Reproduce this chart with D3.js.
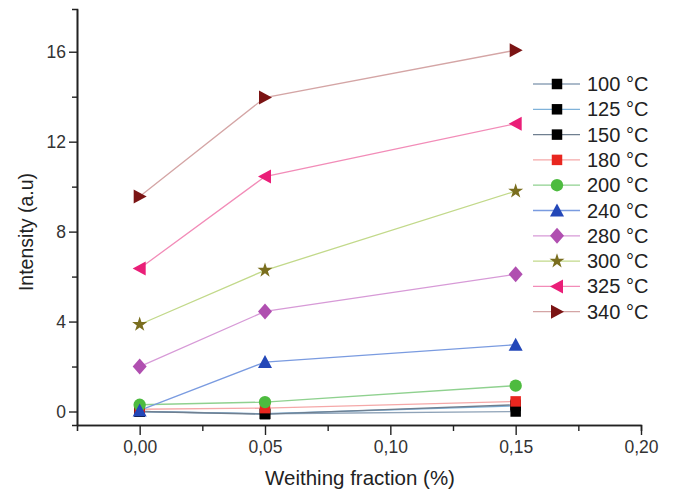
<!DOCTYPE html>
<html>
<head>
<meta charset="utf-8">
<script src="https://cdn.jsdelivr.net/npm/d3@7"></script>
<style>
    body { margin: 0; background: #fff; }
    svg { display: block; font-family: "Liberation Sans", Arial, sans-serif; }
</style>
</head>
<body>
<div id="chart"></div>
<script>
// weighting fraction (x) and intensity values
const fractions = [0, 0.05, 0.15]
const labels = ["100 °C", "125 °C", "150 °C", "180 °C", "200 °C", "240 °C", "280 °C", "300 °C", "325 °C", "340 °C"]
const t100 = [0.0, -0.1, 0.0]
const t125 = [0.0, -0.1, 0.25]
const t150 = [0.0, -0.12, 0.3]
const t180 = [0.1, 0.15, 0.45]
const t200 = [0.3, 0.42, 1.15]
const t240 = [0.05, 2.2, 2.97]
const t280 = [2.0, 4.45, 6.1]
const t300 = [3.87, 6.28, 9.8]
const t325 = [6.36, 10.45, 12.8]
const t340 = [9.56, 13.96, 16.07]
const yTicks = [0, 4, 8, 12, 16]
const xTicks = [0, 0.05, 0.10, 0.15, 0.20]

const seriesValues = [t100, t125, t150, t180, t200, t240, t280, t300, t325, t340]
const lineColors = ["#8fa3b8", "#7fb2d9", "#6f7f90", "#f5a8a8", "#8fd18f", "#7a9be0", "#d79ad7", "#c2d98a", "#f28cb8", "#d4a5a5"]
const markColors = ["#000", "#000", "#000", "#e8261f", "#4dbb3f", "#2347b8", "#b04fb0", "#7a6e1e", "#ea1e78", "#7b1414"]
const markShapes = ["square", "square", "square", "square", "circle", "up", "diamond", "star", "left", "right"]

const dimensions = {
    width: 674,
    height: 490,
    margin: {top: 9, right: 33, bottom: 65, left: 77},
}

const wrapper = d3.select("#chart")
    .append("svg")
    .attr("width", dimensions.width)
    .attr("height", dimensions.height)

const xScale = d3.scaleLinear()
    .domain([-0.025, 0.2])
    .range([dimensions.margin.left, dimensions.width - dimensions.margin.right])
const yScale = d3.scaleLinear()
    .domain([-0.6, 17.9])
    .range([dimensions.height - dimensions.margin.bottom, dimensions.margin.top])

const commaFormat = d => d3.format(".2f")(d).replace(".", ",")
const axisColor = "#222"
const bottomY = dimensions.height - dimensions.margin.bottom

// minor ticks first
wrapper.append("g")
    .attr("transform", "translate(0," + bottomY + ")")
    .call(d3.axisBottom(xScale).tickValues([0.025, 0.075, 0.125, 0.175]).tickSize(6).tickFormat(""))
wrapper.append("g")
    .attr("transform", "translate(" + dimensions.margin.left + ",0)")
    .call(d3.axisLeft(yScale).tickValues([2, 6, 10, 14]).tickSize(5).tickFormat(""))

const xAxis = wrapper.append("g")
    .attr("transform", "translate(0," + bottomY + ")")
    .call(d3.axisBottom(xScale).tickValues(xTicks).tickSize(10).tickPadding(6).tickFormat(commaFormat).tickSizeOuter(0))
const yAxis = wrapper.append("g")
    .attr("transform", "translate(" + dimensions.margin.left + ",0)")
    .call(d3.axisLeft(yScale).tickValues(yTicks).tickSize(8).tickPadding(3).tickSizeOuter(0))

wrapper.selectAll(".domain").attr("stroke", axisColor).attr("stroke-width", 1.6)
wrapper.selectAll(".tick line").attr("stroke", axisColor).attr("stroke-width", 1.4)
wrapper.selectAll(".tick text").attr("font-size", 17.5).attr("fill", "#333")
    .attr("font-family", "'Liberation Sans', Arial, sans-serif")

wrapper.append("text")
    .attr("x", 360)
    .attr("y", 485)
    .attr("text-anchor", "middle")
    .attr("font-size", 20.5)
    .attr("fill", "#222")
    .text("Weithing fraction (%)")
wrapper.append("text")
    .attr("transform", "translate(33,232) rotate(-90)")
    .attr("text-anchor", "middle")
    .attr("font-size", 19.5)
    .attr("fill", "#222")
    .text("Intensity (a.u)")

function symbolPath(shape) {
    if (shape === "square") return d3.symbol(d3.symbolSquare, 110)()
    if (shape === "circle") return d3.symbol(d3.symbolCircle, 120)()
    if (shape === "diamond") return "M0,-8L7,0L0,8L-7,0Z"
    if (shape === "star") return d3.symbol(d3.symbolStar, 70)()
    if (shape === "up") return "M0,-7L7,6L-7,6Z"
    if (shape === "left") return "M-7,0L6,-7L6,7Z"
    if (shape === "right") return "M7,0L-6,-7L-6,7Z"
}

const lineGenerator = d3.line()
    .x((d, i) => xScale(fractions[i]))
    .y(d => yScale(d))

const plot = wrapper.append("g")
seriesValues.forEach((values, k) => {
    plot.append("path")
        .attr("d", lineGenerator(values))
        .attr("fill", "none")
        .attr("stroke", lineColors[k])
        .attr("stroke-width", 1.3)
})
seriesValues.forEach((values, k) => {
    plot.selectAll(null)
        .data(values)
        .join("path")
        .attr("transform", (d, i) => "translate(" + xScale(fractions[i]) + "," + yScale(d) + ")")
        .attr("d", symbolPath(markShapes[k]))
        .attr("fill", markColors[k])
})

// legend
const legend = wrapper.append("g")
    .attr("transform", "translate(533,84)")
labels.forEach((label, k) => {
    const row = legend.append("g")
        .attr("transform", "translate(0," + (k * 25.3) + ")")
    row.append("line")
        .attr("x1", 0).attr("x2", 47)
        .attr("stroke", lineColors[k])
        .attr("stroke-width", 1.3)
    row.append("path")
        .attr("transform", "translate(24,0)")
        .attr("d", symbolPath(markShapes[k]))
        .attr("fill", markColors[k])
    row.append("text")
        .attr("x", 54)
        .attr("y", 7)
        .attr("font-size", 20)
        .attr("fill", "#222")
        .text(label)
})
</script>
</body>
</html>
